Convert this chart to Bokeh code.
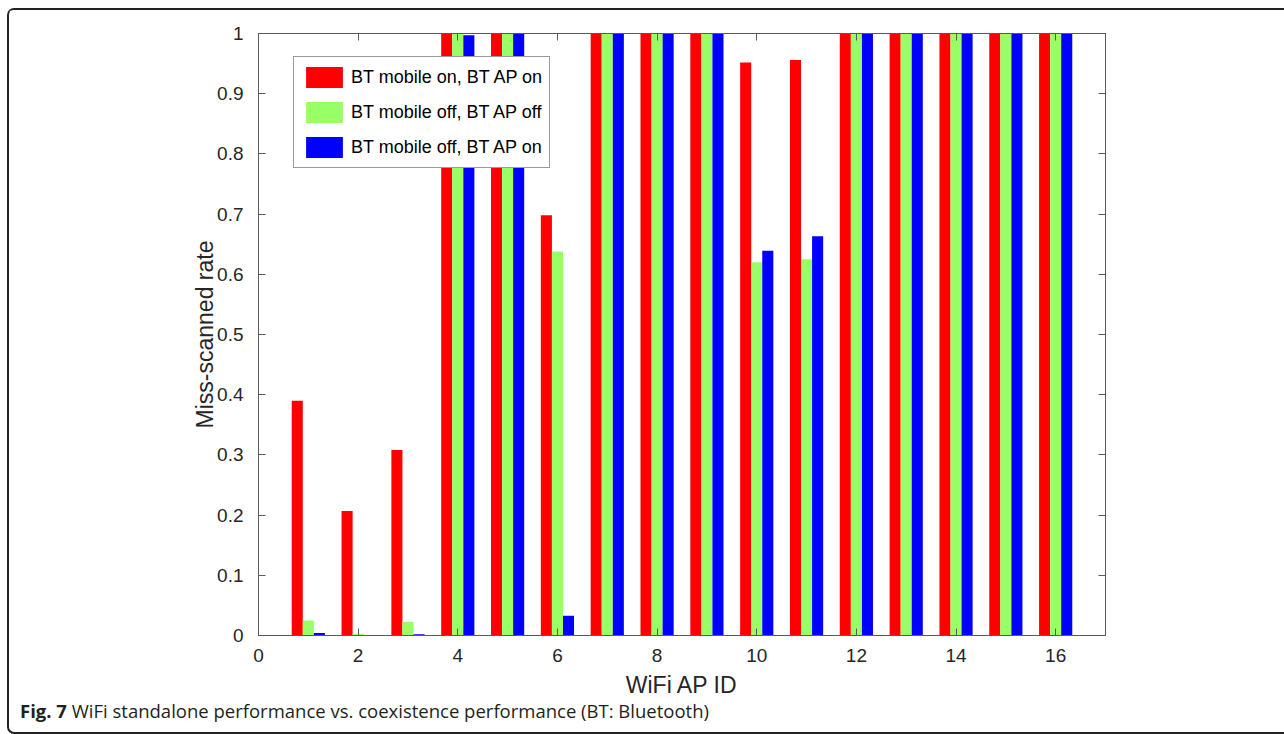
from bokeh.plotting import figure
from bokeh.models import (ColumnDataSource, FixedTicker, LinearAxis, Legend, LegendItem,
                          CustomJSTickFormatter, Range1d, Div)
from bokeh.layouts import column
from bokeh.transform import dodge
from bokeh.embed import file_html
from bokeh.resources import INLINE

# ---- data ----
ap_ids = [1, 2, 3, 4, 5, 6, 7, 8, 9, 10, 11, 12, 13, 14, 15, 16]
bt_mobile_on_ap_on = [0.390, 0.207, 0.308, 1.0, 1.0, 0.698, 1.0, 1.0, 1.0, 0.952, 0.956, 1.0, 1.0, 1.0, 1.0, 1.0]
bt_mobile_off_ap_off = [0.025, 0.003, 0.023, 1.0, 1.0, 0.638, 1.0, 1.0, 1.0, 0.620, 0.625, 1.0, 1.0, 1.0, 1.0, 1.0]
bt_mobile_off_ap_on = [0.004, 0.001, 0.002, 0.997, 1.0, 0.033, 1.0, 1.0, 1.0, 0.639, 0.663, 1.0, 1.0, 1.0, 1.0, 1.0]
series_names = ["BT mobile on, BT AP on", "BT mobile off, BT AP off", "BT mobile off, BT AP on"]
x_ticks = [0, 2, 4, 6, 8, 10, 12, 14, 16]
y_ticks = [0.0, 0.1, 0.2, 0.3, 0.4, 0.5, 0.6, 0.7, 0.8, 0.9, 1.0]
x_label = "WiFi AP ID"
y_label = "Miss-scanned rate"
caption_bold = "Fig. 7"
caption_text = "WiFi standalone performance vs. coexistence performance (BT: Bluetooth)"

src = ColumnDataSource(dict(id=ap_ids, a=bt_mobile_on_ap_on, b=bt_mobile_off_ap_off, c=bt_mobile_off_ap_on))

W, H = 1268, 690
FL, FT, FW, FH = 249, 23, 847, 602
p = figure(width=W, height=H, output_backend="svg", toolbar_location=None,
           x_range=Range1d(0, 17), y_range=Range1d(0, 1),
           min_border_left=FL, min_border_top=FT, min_border_right=W - FL - FW,
           min_border_bottom=H - FT - FH, x_axis_type=None, y_axis_type=None)
p.outline_line_color = "#5a5a5a"
p.background_fill_color = "white"
p.border_fill_color = "white"

fmt = CustomJSTickFormatter(code="return (Math.round(tick*10)/10).toString();")
blank = CustomJSTickFormatter(code="return '';")
axis_col = "#5a5a5a"
txt_col = "#262626"
tick_font = "Liberation Sans"

def make_axis(ticks, show_labels, label=None):
    ax = LinearAxis(ticker=FixedTicker(ticks=ticks), formatter=fmt if show_labels else blank)
    ax.major_tick_in = 7
    ax.major_tick_out = 0
    ax.minor_tick_in = 0
    ax.minor_tick_out = 0
    ax.axis_line_color = axis_col
    ax.major_tick_line_color = axis_col
    ax.major_label_text_font = tick_font
    ax.major_label_text_color = txt_col
    ax.major_label_text_font_size = "19px"
    ax.major_label_standoff = 9
    if label:
        ax.axis_label = label
        ax.axis_label_text_font = tick_font
        ax.axis_label_text_font_style = "normal"
        ax.axis_label_text_font_size = "23px"
        ax.axis_label_text_color = txt_col
    return ax

xb = make_axis(x_ticks, True, x_label)
xb.major_label_standoff = 13
xb.axis_label_standoff = 7
yl = make_axis(y_ticks, True, y_label)
yl.major_label_standoff = 15
yl.axis_label_standoff = -4
p.add_layout(xb, "below")
p.add_layout(yl, "left")
p.add_layout(make_axis(x_ticks, False), "above")
p.add_layout(make_axis(y_ticks, False), "right")

p.xgrid.ticker = FixedTicker(ticks=x_ticks)
p.ygrid.ticker = FixedTicker(ticks=y_ticks)
p.xgrid.grid_line_color = "#e1e1e1"
p.ygrid.grid_line_color = "#e1e1e1"

bw = 0.222
colors = ["#ff0000", "#99ff66", "#0000ff"]
r1 = p.vbar(x=dodge("id", -bw, range=p.x_range), top="a", width=bw, source=src, fill_color=colors[0], line_color=None)
r2 = p.vbar(x=dodge("id", 0.0, range=p.x_range), top="b", width=bw, source=src, fill_color=colors[1], line_color=None)
r3 = p.vbar(x=dodge("id", bw, range=p.x_range), top="c", width=bw, source=src, fill_color=colors[2], line_color=None)

legend = Legend(items=[LegendItem(label=series_names[0], renderers=[r1]),
                       LegendItem(label=series_names[1], renderers=[r2]),
                       LegendItem(label=series_names[2], renderers=[r3])],
                location=(35, FH - 23 - 112))
legend.glyph_width = 46
legend.glyph_height = 26
legend.label_text_font = tick_font
legend.label_text_font_size = "18px"
legend.label_text_color = "#000000"
legend.label_standoff = 4
legend.spacing = 9
legend.padding = 7
legend.margin = 0
legend.border_line_color = "#333333"
legend.border_line_width = 1
legend.background_fill_alpha = 1
p.add_layout(legend)

cap = Div(text=f"<b>{caption_bold}</b> {caption_text}", width=W, height=22,
          styles={"font-family": "'Open Sans'", "font-size": "18.5px", "color": "#231f20",
                  "padding-left": "6px", "line-height": "11px", "overflow": "visible"})

layout = column(p, cap, spacing=0)
layout.styles = {"margin-left": "7px", "margin-top": "8px",
                 "border-top": "2px solid #222", "border-left": "2px solid #222",
                 "border-bottom": "2px solid #222", "border-right": "0px none",
                 "border-radius": "7px 0 0 7px"}

open("out.html", "w").write(file_html(layout, INLINE))
